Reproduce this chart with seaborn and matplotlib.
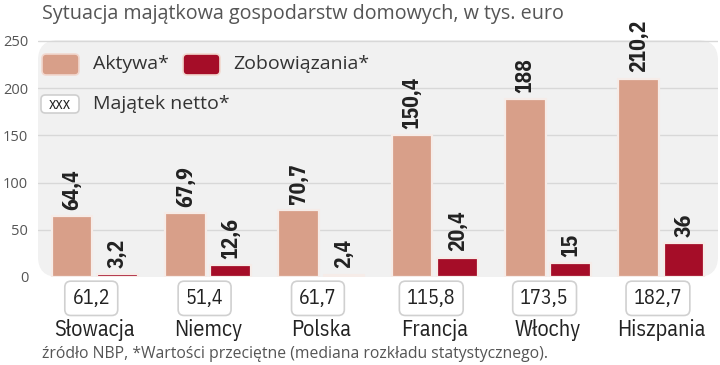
import matplotlib
matplotlib.use("Agg")
import matplotlib.pyplot as plt
import seaborn as sns
import pandas as pd
from matplotlib.patches import FancyBboxPatch

kraje = ["Słowacja", "Niemcy", "Polska", "Francja", "Włochy", "Hiszpania"]
aktywa = [64.4, 67.9, 70.7, 150.4, 188, 210.2]
zobowiazania = [3.2, 12.6, 2.4, 20.4, 15, 36]
netto = [61.2, 51.4, 61.7, 115.8, 173.5, 182.7]
serie = ["Aktywa*", "Zobowiązania*"]
kolory = ["#d89f89", "#a50d28"]
yticks = [0, 50, 100, 150, 200, 250]

def fmt(v):
    s = f"{v:g}"
    return s.replace(".", ",")

df = pd.DataFrame({
    "kraj": kraje * 2,
    "wartosc": aktywa + zobowiazania,
    "seria": [serie[0]] * len(kraje) + [serie[1]] * len(kraje),
})

sns.set_theme(style="white")
COND = ["IBM Plex Sans Condensed", "DejaVu Sans"]
LIGHT = ["Open Sans", "DejaVu Sans"]
plt.rcParams["font.family"] = COND

W, H = 720, 365
fig = plt.figure(figsize=(W / 100, H / 100), dpi=100)
ax_l, ax_r, ax_t, ax_b = 38, 718, 40, 277
ax = fig.add_axes([ax_l / W, 1 - ax_b / H, (ax_r - ax_l) / W, (ax_b - ax_t) / H])
ax.set_facecolor("none")

# rounded plot background
bg = FancyBboxPatch((0, 0), 1, 1, boxstyle="round,pad=0,rounding_size=0.03",
                    mutation_aspect=(ax_r - ax_l) / (ax_b - ax_t),
                    transform=ax.transAxes, fc="#f1f1f1", ec="none", zorder=0)
ax.add_patch(bg)

for yv in yticks[1:]:
    ax.axhline(yv, color="#d8d8d8", lw=1, zorder=0.5)

sns.barplot(data=df, x="kraj", y="wartosc", hue="seria", palette=kolory, saturation=1,
            width=0.8, gap=0.1, ax=ax, legend=False, zorder=2,
            edgecolor="#f6ece8", linewidth=1.6)
for p in ax.patches:
    p.set_joinstyle("round")

ax.set_xlim(-0.5, len(kraje) - 0.5)
ax.set_ylim(0, 251)
ax.set_xlabel("")
ax.set_ylabel("")
for s in ax.spines.values():
    s.set_visible(False)

ax.set_yticks(yticks)
ax.set_yticklabels([str(v) for v in yticks], family=LIGHT, fontsize=10.5, color="#555555")
ax.tick_params(axis="y", length=0, pad=7)
ax.tick_params(axis="x", length=0, pad=30, labelsize=16, labelcolor="#222222")

# value labels
dx = 0.8 / 2 / 2
for i in range(len(kraje)):
    for j, vals in enumerate([aktywa, zobowiazania]):
        x = i + (-dx if j == 0 else dx)
        ax.annotate(fmt(vals[i]), (x, vals[i]), xytext=(0, 4.5), textcoords="offset points",
                    rotation=90, ha="center", va="bottom", fontsize=15.5, fontweight="bold",
                    color="#222222", zorder=3)

# net value boxes
for i, v in enumerate(netto):
    ax.text(i - 0.03, -0.09, fmt(v), transform=ax.get_xaxis_transform(), ha="center", va="center",
            fontsize=14.5, color="#222222", clip_on=False, zorder=4,
            bbox=dict(boxstyle="round,pad=0.38,rounding_size=0.3", fc="white", ec="#d0d0d0", lw=1.2))

# title
fig.text(42 / W, 1 - 14 / H, "Sytuacja majątkowa gospodarstw domowych, w tys. euro",
         family=LIGHT, fontsize=14.2, color="#555555", ha="left", va="center")

# footnote
fig.text(42 / W, 1 - 354 / H, "źródło NBP, *Wartości przeciętne (mediana rozkładu statystycznego).",
         family=LIGHT, fontsize=11.3, color="#555555", ha="left", va="center")

# legend
def fig_box(x0, y0, w, h, fc, ec):
    b = FancyBboxPatch((x0 / W, 1 - (y0 + h) / H), w / W, h / H,
                       boxstyle="round,pad=0,rounding_size=0.006", mutation_aspect=W / H,
                       transform=fig.transFigure, fc=fc, ec=ec, lw=1.2, zorder=5)
    fig.add_artist(b)

LEGFS = 14
fig_box(42, 54, 37, 21, kolory[0], "#f2d8cf")
fig.text(93 / W, 1 - 64 / H, serie[0], fontsize=LEGFS, family=LIGHT, color="#333333",
         ha="left", va="center", zorder=6)
fig_box(183, 54, 37, 21, kolory[1], "#f2d8cf")
fig.text(233 / W, 1 - 64 / H, serie[1], fontsize=LEGFS, family=LIGHT, color="#333333",
         ha="left", va="center", zorder=6)
fig_box(41, 95, 38, 18, "white", "#cfcfcf")
fig.text(60 / W, 1 - 104 / H, "xxx", fontsize=11.5, color="#222222", ha="center", va="center", zorder=6)
fig.text(93 / W, 1 - 104 / H, "Majątek netto*", fontsize=LEGFS, family=LIGHT, color="#333333",
         ha="left", va="center", zorder=6)

fig.savefig("out.png", dpi=100)
